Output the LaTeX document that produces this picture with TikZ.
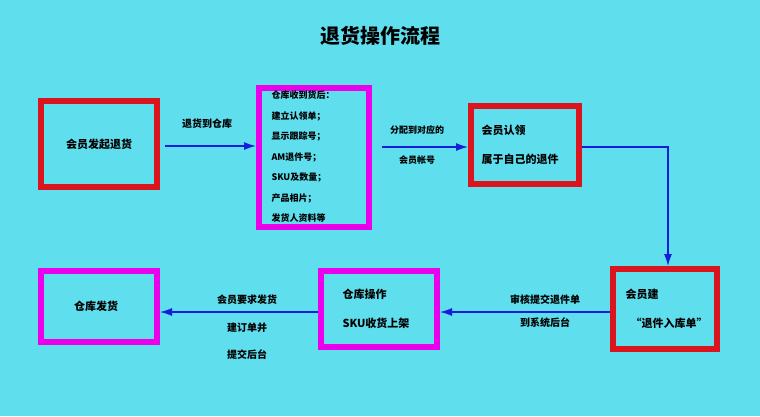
\documentclass[tikz,border=0pt]{standalone}
\usepackage{fontspec}
\setmainfont{Noto Sans CJK SC}
\usetikzlibrary{arrows.meta}
\definecolor{bg}{RGB}{95,222,238}
\definecolor{rb}{RGB}{220,20,30}
\definecolor{mb}{RGB}{235,0,235}
\definecolor{ab}{RGB}{20,30,220}
\begin{document}
\begin{tikzpicture}[x=1pt,y=-1pt,
 rbox/.style={draw=rb,line width=6pt},
 mbox/.style={draw=mb,line width=6pt},
 conn/.style={draw=ab,line width=1.5pt,-{Latex[length=12pt,width=8pt]}},
 lab/.style={font=\fontsize{10}{12}\selectfont\bfseries},
 txt/.style={font=\fontsize{11}{13}\selectfont\bfseries}]
\fill[bg] (0,0) rectangle (760,416);
\useasboundingbox (0,0) rectangle (760,416);
\node[font=\fontsize{20}{24}\selectfont\bfseries] (title) at (380,36) {退货操作流程};
\node[rbox,minimum width=116pt,minimum height=86pt] (A) at (99,144) {};
\node[txt] (At) at (A) {会员发起退货};
\node[mbox,minimum width=110pt,minimum height=139pt] (B) at (314,157.5) {};
\node[lab,align=left,anchor=west,font=\fontsize{9}{20.5}\selectfont\bfseries] (Bt) at (268,157) {仓库收到货后：\\建立认领单；\\显示跟踪号；\\AM退件号；\\SKU及数量；\\产品相片；\\发货人资料等};
\node[rbox,minimum width=108pt,minimum height=78pt] (C) at (525,145) {};
\node[txt,align=left,anchor=west,font=\fontsize{11}{29}\selectfont\bfseries] (Ct) at (478,145) {会员认领\\属于自己的退件};
\node[rbox,minimum width=104pt,minimum height=80pt] (D) at (665,309) {};
\node[txt,align=left,anchor=west,font=\fontsize{11}{29}\selectfont\bfseries] (Dt) at (622,309) {会员建\\\ \ “退件入库单”};
\node[mbox,minimum width=116pt,minimum height=76pt] (E) at (379,309) {};
\node[txt,align=left,font=\fontsize{11}{29}\selectfont\bfseries] (Et) at (376,309) {仓库操作\\SKU收货上架};
\node[mbox,minimum width=116pt,minimum height=71pt] (F) at (99,306.5) {};
\node[txt] (Ft) at (96,306) {仓库发货};
\draw[conn] (165,146) -- (B.west |- 0,146);
\node[lab] (l1) at (207,124) {退货到仓库};
\draw[conn] (382,147) -- (C.west |- 0,147);
\node[lab,font=\fontsize{9}{11}\selectfont\bfseries] (l2) at (417,130) {分配到对应的};
\node[lab,font=\fontsize{9}{11}\selectfont\bfseries] (l3) at (417,160) {会员帐号};
\coordinate (k) at (668,147);
\draw[conn] (C.east |- 0,147) -- (k) -- (D.north -| k);
\draw[conn] (D.west |- 0,312) -- (E.east |- 0,312);
\node[lab] (l4) at (545,300) {审核提交退件单};
\node[lab] (l5) at (545,323) {到系统后台};
\draw[conn] (E.west |- 0,312) -- (F.east |- 0,312);
\node[lab] (l6) at (247,300) {会员要求发货};
\node[lab] (l7) at (247,328) {建订单并};
\node[lab] (l8) at (247,355) {提交后台};
\end{tikzpicture}
\end{document}
